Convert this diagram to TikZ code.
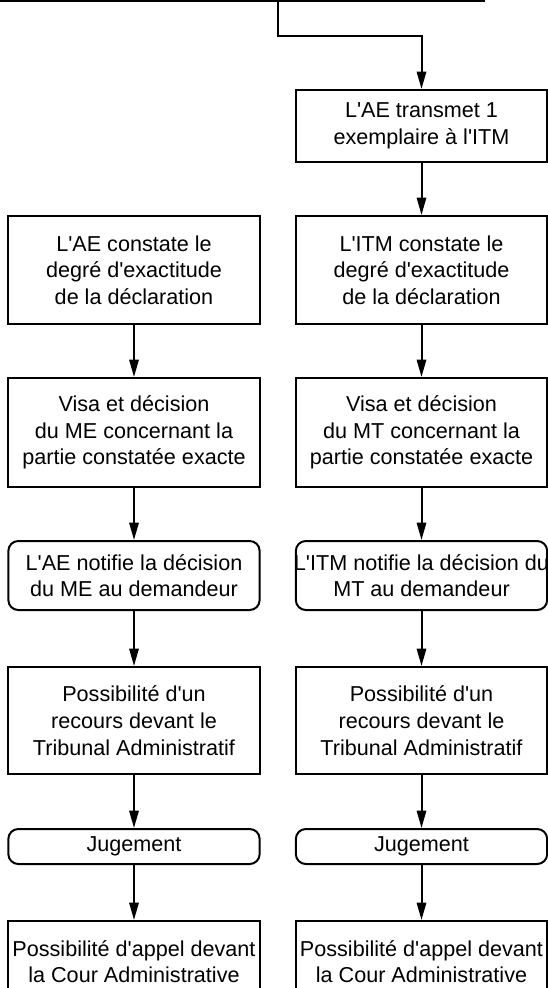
\documentclass[tikz,border=0pt]{standalone}
\usepackage{fontspec}
\setmainfont{Liberation Sans}[Ligatures=TeXOff]
\usetikzlibrary{arrows.meta}

\tikzset{every picture/.style={line width=1.5pt}}
\tikzset{
  boxfont/.style={font=\fontsize{16.2}{20}\selectfont},
  stepbox/.style={draw, minimum width=188.5pt, inner sep=0.75pt, align=center, boxfont},
  roundbox/.style={stepbox, rounded corners=7.5pt},
  arr/.style={-{Triangle[length=13pt,width=7pt]}}
}

\begin{document}
\begin{tikzpicture}[x=0.75pt,y=0.75pt,yscale=-1,xscale=1]
\useasboundingbox (0,0) rectangle (548,988);

%Shape: Rectangle (top box, cut off)
\draw (-20,-60) rectangle (484,1);
\coordinate (topout) at (278,1);

% Text Node
\node [stepbox, minimum height=54pt] (transmet) at (421.5,126) {L'AE transmet 1\\exemplaire à l'ITM};

%left column
% Text Node
\node [stepbox, minimum height=81pt] (constAE) at (134,270) {L'AE constate le\\degré d'exactitude\\de la déclaration};
% Text Node
\node [stepbox, minimum height=81.75pt] (visaME) at (134,432.5) {Visa et décision\\du ME concernant la\\partie constatée exacte};
% Text Node
\node [roundbox, minimum height=51.75pt] (notifAE) at (134,575.5) {L'AE notifie la décision\\du ME au demandeur};
% Text Node
\node [stepbox, minimum height=80.25pt] (recoursL) at (134,720.5) {Possibilité d'un\\recours devant le\\Tribunal Administratif};
% Text Node
\node [roundbox, minimum height=26.25pt] (jugeL) at (134,846.5) {Jugement};
% Text Node
\node [stepbox, minimum height=81pt] (appelL) at (134,975) {Possibilité d'appel devant\\la Cour Administrative\\};

%right column
% Text Node
\node [stepbox, minimum height=81pt] (constITM) at (421.5,270) {L'ITM constate le\\degré d'exactitude\\de la déclaration};
% Text Node
\node [stepbox, minimum height=81.75pt] (visaMT) at (421.5,432.5) {Visa et décision\\du MT concernant la\\partie constatée exacte};
% Text Node
\node [roundbox, minimum height=51.75pt,
  path picture={\node [align=center, boxfont]
    at (path picture bounding box.center) {L'ITM notifie la décision du\\MT au demandeur};}]
  (notifITM) at (421.5,575.5) {};
% Text Node
\node [stepbox, minimum height=80.25pt] (recoursR) at (421.5,720.5) {Possibilité d'un\\recours devant le\\Tribunal Administratif};
% Text Node
\node [roundbox, minimum height=26.25pt] (jugeR) at (421.5,846.5) {Jugement};
% Text Node
\node [stepbox, minimum height=81pt] (appelR) at (421.5,975) {Possibilité d'appel devant\\la Cour Administrative\\};

%Straight Lines
\draw [arr] (topout) -- ++(0,35) -| (transmet.north);
\draw [arr] (transmet) -- (constITM);
\draw [arr] (constAE) -- (visaME);
\draw [arr] (visaME) -- (notifAE);
\draw [arr] (notifAE) -- (recoursL);
\draw [arr] (recoursL) -- (jugeL);
\draw [arr] (jugeL) -- (appelL);
\draw [arr] (constITM) -- (visaMT);
\draw [arr] (visaMT) -- (notifITM);
\draw [arr] (notifITM) -- (recoursR);
\draw [arr] (recoursR) -- (jugeR);
\draw [arr] (jugeR) -- (appelR);

\end{tikzpicture}
\end{document}
